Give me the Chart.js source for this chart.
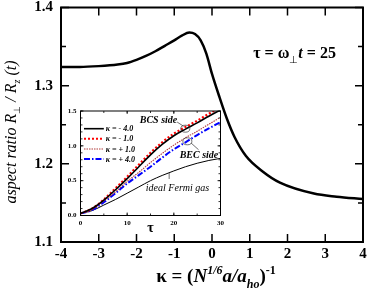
<!DOCTYPE html>
<html>
<head>
<meta charset="utf-8">
<script src="https://cdn.jsdelivr.net/npm/chart.js@4.4.0/dist/chart.umd.min.js"></script>
<style>
  html, body { margin: 0; padding: 0; background: #fff; }
  #wrap { position: relative; width: 368px; height: 300px; }
  #main { position: absolute; left: 0; top: 0; }
  #inset { position: absolute; left: 55px; top: 104px; }
</style>
</head>
<body>
<div id="wrap">
  <canvas id="main" width="368" height="300"></canvas>
  <canvas id="inset" width="172" height="136"></canvas>
</div>
<script>
// main panel: aspect ratio at tau = 25 vs kappa
const kappa = [-4, -3.5, -3, -2.5, -2.25, -2, -1.75, -1.5, -1.25, -1, -0.8, -0.6, -0.45, -0.3, -0.15,
  0, 0.2, 0.4, 0.6, 0.9, 1.35, 1.8, 2.7, 3.3, 4];
const aspectRatio = [1.324, 1.324, 1.325, 1.327, 1.329, 1.333, 1.338, 1.344, 1.351, 1.358, 1.364, 1.368, 1.366, 1.358, 1.341,
  1.315, 1.285, 1.257, 1.234, 1.21, 1.19, 1.176, 1.162, 1.158, 1.155];

// inset: time evolution
const tau = [0, 2.5, 5, 7.5, 10, 12.5, 15, 17.5, 20, 22.5, 25, 27.5, 30];
const ratioKm4 = [0.03, 0.10, 0.22, 0.37, 0.53, 0.70, 0.87, 1.02, 1.145, 1.24, 1.33, 1.425, 1.515];
const ratioKm1 = [0.03, 0.10, 0.23, 0.39, 0.555, 0.73, 0.90, 1.05, 1.175, 1.27, 1.36, 1.46, 1.55];
const ratioKp1 = [0.03, 0.09, 0.21, 0.34, 0.49, 0.62, 0.76, 0.89, 1.01, 1.115, 1.21, 1.31, 1.41];
const ratioKp4 = [0.03, 0.08, 0.19, 0.32, 0.46, 0.58, 0.70, 0.83, 0.95, 1.05, 1.155, 1.25, 1.34];
const ratioIdeal = [0.03, 0.07, 0.15, 0.23, 0.32, 0.41, 0.50, 0.575, 0.64, 0.70, 0.75, 0.79, 0.82];
const insetLabels = ['κ = - 4.0', 'κ = - 1.0', 'κ = + 1.0', 'κ = + 4.0', 'ideal Fermi gas'];

const SERIF = '"Liberation Serif", "Times New Roman", serif';

function points(xs, ys) {
  return xs.map((x, i) => ({ x, y: ys[i] }));
}

// fixed axis size, and no extra label padding so the plot area stays where it should
function fixSize(w, h) {
  return (s) => {
    if (w !== null) s.width = w;
    if (h !== null) s.height = h;
    s.paddingTop = s.paddingBottom = s.paddingLeft = s.paddingRight = 0;
  };
}

// text made of pieces with different fonts / offsets
function drawRuns(ctx, runs, x, y, align) {
  let w = 0;
  runs.forEach((r) => {
    ctx.font = r.font;
    r.w = ctx.measureText(r.text).width;
    w += r.w + (r.dx || 0);
  });
  let cx = align === 'center' ? x - w / 2 : x;
  runs.forEach((r) => {
    ctx.font = r.font;
    cx += r.dx || 0;
    ctx.fillText(r.text, cx, y + (r.dy || 0));
    cx += r.w;
  });
}

// closed frame with inward ticks on all four sides
const frameTicks = {
  id: 'frameTicks',
  afterDatasetsDraw(chart, args, opts) {
    const { ctx, chartArea: a, scales: { x, y } } = chart;
    ctx.save();
    ctx.strokeStyle = '#000';
    ctx.lineWidth = opts.frameWidth;
    ctx.strokeRect(a.left, a.top, a.right - a.left, a.bottom - a.top);
    ctx.lineWidth = opts.tickWidth;
    ctx.beginPath();
    const each = (scale, step, fn) => {
      if (!step) return;
      const n = Math.round((scale.max - scale.min) / step);
      for (let i = 0; i <= n; i++) fn(scale.getPixelForValue(scale.min + i * step));
    };
    [[opts.xMinor, opts.minorLen], [opts.xMajor, opts.majorLen]].forEach(([step, len]) => {
      each(x, step, (p) => {
        ctx.moveTo(p, a.bottom); ctx.lineTo(p, a.bottom - len);
        ctx.moveTo(p, a.top); ctx.lineTo(p, a.top + len);
      });
    });
    [[opts.yMinor, opts.minorLen], [opts.yMajor, opts.majorLen]].forEach(([step, len]) => {
      each(y, step, (p) => {
        ctx.moveTo(a.left, p); ctx.lineTo(a.left + len, p);
        ctx.moveTo(a.right, p); ctx.lineTo(a.right - len, p);
      });
    });
    ctx.stroke();
    ctx.restore();
  }
};

const mainLabels = {
  id: 'mainLabels',
  afterDraw(chart) {
    const { ctx, chartArea: a, scales: { x, y } } = chart;
    ctx.save();
    ctx.fillStyle = '#000';
    ctx.textBaseline = 'alphabetic';
    const big = 'bold 19px ' + SERIF, bigI = 'italic bold 19px ' + SERIF;
    const sml = 'bold 12px ' + SERIF, smlI = 'italic bold 12px ' + SERIF;
    drawRuns(ctx, [
      { text: 'κ = (', font: big },
      { text: 'N', font: bigI },
      { text: '1/6', font: smlI, dy: -8, dx: 0 },
      { text: 'a/a', font: bigI },
      { text: 'ho', font: smlI, dy: 6 },
      { text: ')', font: big },
      { text: '-1', font: sml, dy: -8 }
    ], (a.left + a.right) / 2 + 4, a.bottom + 40, 'center');

    const it = 'italic 16px ' + SERIF, sub = 'italic 10px ' + SERIF;
    ctx.save();
    ctx.translate(15.5, 132);
    ctx.rotate(-Math.PI / 2);
    drawRuns(ctx, [
      { text: 'aspect ratio R', font: it },
      { text: '⊥', font: '9px ' + SERIF, dy: 4 },
      { text: ' / R', font: it },
      { text: 'z', font: sub, dy: 4 },
      { text: ' (t)', font: it }
    ], 0, 0, 'center');
    ctx.restore();

    const b = 'bold 16px ' + SERIF;
    drawRuns(ctx, [
      { text: 'τ = ω', font: b },
      { text: '⊥', font: '10px ' + SERIF, dy: 5 },
      { text: 't', font: 'italic bold 16px ' + SERIF },
      { text: ' = 25', font: b }
    ], x.getPixelForValue(1.09), y.getPixelForValue(1.335), 'left');
    ctx.restore();
  }
};

const insetNotes = {
  id: 'insetNotes',
  afterDatasetsDraw(chart) {
    const { ctx, scales: { x, y } } = chart;
    const px = (v) => x.getPixelForValue(v), py = (v) => y.getPixelForValue(v);
    ctx.save();
    // legend
    const rows = [1.246, 1.102, 0.955, 0.811];
    ctx.textBaseline = 'middle';
    chart.data.datasets.slice(0, 4).forEach((ds, i) => {
      const yy = py(rows[i]);
      ctx.strokeStyle = ds.borderColor;
      ctx.lineWidth = ds.borderWidth;
      ctx.setLineDash(ds.borderDash || []);
      ctx.beginPath(); ctx.moveTo(px(0.75), yy); ctx.lineTo(px(5), yy); ctx.stroke();
      ctx.setLineDash([]);
      ctx.fillStyle = '#000';
      ctx.font = 'italic bold 8px ' + SERIF;
      ctx.fillText(ds.label, px(5.4), yy + 0.5);
    });
    // BCS / BEC markers
    ctx.fillStyle = '#000';
    ctx.strokeStyle = '#333';
    ctx.lineWidth = 0.7;
    ctx.beginPath(); ctx.ellipse(px(22.46), py(1.246), 4.5, 3.5, 0, 0, Math.PI * 2); ctx.stroke();
    ctx.beginPath(); ctx.ellipse(px(22.9), py(1.065), 4.5, 3.5, 0, 0, Math.PI * 2); ctx.stroke();
    ctx.beginPath();
    ctx.moveTo(px(20.7), py(1.342)); ctx.lineTo(px(22.1), py(1.28));
    ctx.moveTo(px(23.7), py(1.04)); ctx.lineTo(px(25.3), py(0.944));
    ctx.moveTo(px(19.0), py(0.524)); ctx.lineTo(px(19.0), py(0.61));
    ctx.stroke();
    ctx.font = 'italic bold 10px ' + SERIF;
    ctx.textBaseline = 'middle';
    ctx.fillText('BCS side', px(12.7), py(1.364));
    ctx.fillText('BEC side', px(21.25), py(0.864));
    ctx.font = 'italic 10px ' + SERIF;
    ctx.fillText(insetLabels[4], px(14.0), py(0.395));
    ctx.restore();
  }
};

new Chart(document.getElementById('main').getContext('2d'), {
  type: 'line',
  data: {
    datasets: [{
      data: points(kappa, aspectRatio),
      borderColor: '#000',
      borderWidth: 2.5,
      pointRadius: 0,
      cubicInterpolationMode: 'monotone'
    }]
  },
  options: {
    responsive: false,
    devicePixelRatio: 1,
    animation: false,
    layout: { padding: { top: 7.5, right: 5, left: 0, bottom: 0 } },
    plugins: {
      legend: { display: false },
      tooltip: { enabled: false },
      frameTicks: { frameWidth: 2, tickWidth: 1.5, xMajor: 1, yMajor: 0.1, yMinor: 0.05, majorLen: 8, minorLen: 5 }
    },
    scales: {
      x: {
        type: 'linear', min: -4, max: 4,
        ticks: { stepSize: 1, color: '#000', padding: 3, maxRotation: 0, font: { family: SERIF, weight: 'bold', size: 15 } },
        grid: { display: false, drawTicks: false },
        border: { display: false },
        afterFit: fixSize(null, 58)
      },
      y: {
        min: 1.1, max: 1.4,
        ticks: { stepSize: 0.1, color: '#000', padding: 8, callback: (v) => v.toFixed(1), font: { family: SERIF, weight: 'bold', size: 15 } },
        grid: { display: false, drawTicks: false },
        border: { display: false },
        afterFit: fixSize(61, null)
      }
    }
  },
  plugins: [frameTicks, mainLabels]
});

new Chart(document.getElementById('inset').getContext('2d'), {
  type: 'line',
  data: {
    datasets: [
      { label: insetLabels[0], data: points(tau, ratioKm4), borderColor: '#000', borderWidth: 1.6 },
      { label: insetLabels[1], data: points(tau, ratioKm1), borderColor: '#ff0000', borderWidth: 2.2, borderDash: [2, 2] },
      { label: insetLabels[2], data: points(tau, ratioKp1), borderColor: '#b03a3a', borderWidth: 1.1, borderDash: [1.5, 1] },
      { label: insetLabels[3], data: points(tau, ratioKp4), borderColor: '#0000ff', borderWidth: 2, borderDash: [6, 2, 1.5, 2] },
      { label: insetLabels[4], data: points(tau, ratioIdeal), borderColor: '#000', borderWidth: 1 }
    ].map((d) => ({ ...d, pointRadius: 0, cubicInterpolationMode: 'monotone' }))
  },
  options: {
    responsive: false,
    devicePixelRatio: 1,
    animation: false,
    layout: { padding: { top: 7, right: 6.5, left: 0, bottom: 0 } },
    plugins: {
      legend: { display: false },
      tooltip: { enabled: false },
      frameTicks: { frameWidth: 1, tickWidth: 0.8, xMajor: 10, xMinor: 5, yMajor: 0.5, yMinor: 0.1, majorLen: 3, minorLen: 2 }
    },
    scales: {
      x: {
        type: 'linear', min: 0, max: 30,
        ticks: { stepSize: 10, color: '#000', padding: 3, maxRotation: 0, font: { family: SERIF, weight: 'bold', size: 7 } },
        grid: { display: false, drawTicks: false },
        border: { display: false },
        title: { display: true, text: 'τ', color: '#000', padding: { top: 0, bottom: 3.6 }, font: { family: SERIF, weight: 'bold', size: 14 } },
        afterFit: fixSize(null, 24.5)
      },
      y: {
        min: 0, max: 1.5,
        ticks: { stepSize: 0.5, color: '#000', padding: 4, callback: (v) => v.toFixed(1), font: { family: SERIF, weight: 'bold', size: 7 } },
        grid: { display: false, drawTicks: false },
        border: { display: false },
        afterFit: fixSize(25.5, null)
      }
    }
  },
  plugins: [frameTicks, insetNotes]
});
</script>
</body>
</html>
